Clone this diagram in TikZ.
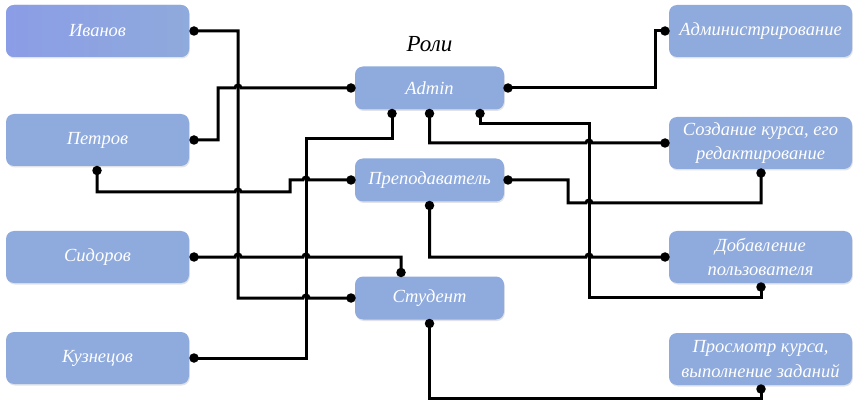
\documentclass[tikz,border=0pt]{standalone}
\usepackage{fontspec}
\setmainfont{Liberation Serif}
\usetikzlibrary{shadows}
\definecolor{boxblue}{HTML}{8FAADC}
\definecolor{boxviolet}{HTML}{8B9DE6}
\newcommand\hopx[2]{-- (#1-3,#2) arc[start angle=180,end angle=360,radius=3]}
\begin{document}
\begin{tikzpicture}[x=1pt,y=-1pt,
  box/.style={rounded corners=8pt, fill=boxblue, text=white, align=center,
    font=\itshape\fontsize{18.5}{24.5}\selectfont, inner sep=0pt,
    drop shadow={shadow xshift=0.8pt, shadow yshift=-1.5pt, opacity=0.18, fill=boxblue!60!black}},
  sidebox/.style={box, minimum width=183pt, minimum height=52pt},
  rolebox/.style={box, minimum width=149pt, minimum height=43pt},
  dot/.style={circle, fill=black, inner sep=0pt, minimum size=9.5pt},
  conn/.style={line width=3pt, black, line join=miter}]
\useasboundingbox (0,0) rectangle (855,401);
% left boxes
\node[sidebox, left color=boxviolet, right color=boxblue] (iv) at (97.5,31) {Иванов};
\node[sidebox] (pe) at (97.5,140) {Петров};
\node[sidebox] (si) at (97.5,257) {Сидоров};
\node[sidebox] (ku) at (97.5,358) {Кузнецов};
% roles
\node[font=\itshape\fontsize{23}{26}\selectfont] (title) at (429.5,44) {Роли};
\node[rolebox] (ad) at (429.5,88) {Admin};
\node[rolebox] (pr) at (429.5,180) {Преподаватель};
\node[rolebox] (st) at (429.5,298) {Студент};
% right boxes
\node[sidebox] (r1) at (760.5,31) {Администрирование};
\node[sidebox] (r2) at (760.5,143) {Создание курса, его\\редактирование};
\node[sidebox] (r3) at (760.5,257) {Добавление\\пользователя};
\node[sidebox] (r4) at (760.5,359) {Просмотр курса,\\выполнение заданий};
% dots
\node[dot] (iv-e) at (194,31) {};
\node[dot] (pe-e) at (194,140) {};
\node[dot] (pe-s) at (97,170.5) {};
\node[dot] (si-e) at (194,257) {};
\node[dot] (ku-e) at (194,358) {};
\node[dot] (ad-w) at (351,88) {};
\node[dot] (ad-s1) at (392,113.5) {};
\node[dot] (ad-s2) at (429.5,113.5) {};
\node[dot] (ad-s3) at (480,113.5) {};
\node[dot] (ad-e) at (508,88) {};
\node[dot] (pr-w) at (351,180) {};
\node[dot] (pr-e) at (508,180) {};
\node[dot] (pr-s) at (429.5,205.5) {};
\node[dot] (st-n) at (401,272.5) {};
\node[dot] (st-w) at (351,298) {};
\node[dot] (st-s) at (429.5,323.5) {};
\node[dot] (r1-w) at (665,31) {};
\node[dot] (r2-w) at (665,143) {};
\node[dot] (r2-s) at (761,173) {};
\node[dot] (r3-w) at (665,257) {};
\node[dot] (r3-s) at (761,287) {};
\node[dot] (r4-s) at (761,389) {};
% connectors
\draw[conn] (iv-e.center) -- (238,31) -- (238,298) \hopx{306}{298} -- (st-w.center);
\draw[conn] (pe-e.center) -- (218,140) -- (218,88) \hopx{238}{88} -- (ad-w.center);
\draw[conn] (pe-s.center) -- (97,192) \hopx{238}{192} -- (290,192) -- (290,180) \hopx{306}{180} -- (pr-w.center);
\draw[conn] (ad-s1.center) -- (392,139) -- (306,139) -- (306,358) -- (ku-e.center);
\draw[conn] (si-e.center) \hopx{238}{257} \hopx{306}{257} -- (401,257) -- (st-n.center);
\draw[conn] (ad-s2.center) -- (429.5,143) \hopx{589}{143} -- (r2-w.center);
\draw[conn] (ad-s3.center) -- (480,124) -- (589,124) -- (589,297) -- (761,297) -- (r3-s.center);
\draw[conn] (ad-e.center) -- (655,88) -- (655,31) -- (r1-w.center);
\draw[conn] (pr-e.center) -- (568,180) -- (568,203) \hopx{589}{203} -- (761,203) -- (r2-s.center);
\draw[conn] (pr-s.center) -- (429.5,257) \hopx{589}{257} -- (r3-w.center);
\draw[conn] (st-s.center) -- (429.5,398) -- (761,398) -- (r4-s.center);
\end{tikzpicture}
\end{document}
